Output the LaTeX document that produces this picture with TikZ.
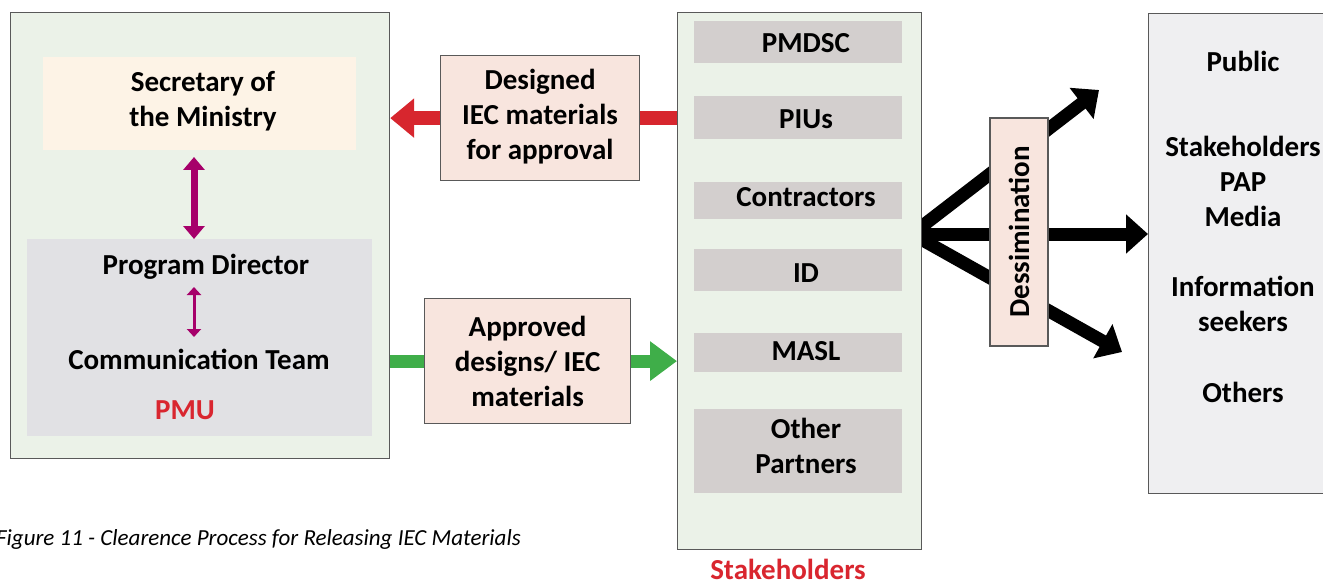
\documentclass[tikz,border=0pt]{standalone}
\usepackage{fontspec}
\setmainfont{Carlito}
\usetikzlibrary{arrows.meta,calc,backgrounds}
\definecolor{pmugreen}{HTML}{EBF2E8}
\definecolor{secfill}{HTML}{FDF3E6}
\definecolor{pmdgray}{HTML}{E1E1E4}
\definecolor{itemgray}{HTML}{D3CFCE}
\definecolor{pinkfill}{HTML}{F8E5DE}
\definecolor{rightfill}{HTML}{EFEFF1}
\definecolor{framecol}{HTML}{595959}
\definecolor{arrred}{HTML}{D7262E}
\definecolor{arrgreen}{HTML}{3FAE49}
\definecolor{arrpurple}{HTML}{A6006A}
\definecolor{pmured}{HTML}{D9262F}
\newcommand{\dgfont}{\fontsize{29}{35}\selectfont\bfseries}
\begin{document}
\begin{tikzpicture}[x=1pt,y=-1pt,
  framebox/.style={draw=framecol, line width=1.2pt, inner sep=0pt, anchor=north west},
  plainbox/.style={inner sep=0pt, anchor=north west},
  txt/.style={font=\dgfont, align=center, inner sep=0pt},
  redarrow/.style={draw=arrred, line width=14pt, -{Triangle[length=24pt,width=38pt]}},
  greenarrow/.style={draw=arrgreen, line width=13pt, -{Triangle[length=27pt,width=38pt]}},
  blackarrow/.style={draw=black, line width=13pt, -{Triangle[length=22pt,width=38pt]}},
  bigpurple/.style={draw=arrpurple, line width=7pt, {Triangle[length=13pt,width=21pt]}-{Triangle[length=13pt,width=21pt]}},
  smallpurple/.style={draw=arrpurple, line width=3pt, {Triangle[length=8pt,width=14pt]}-{Triangle[length=8pt,width=14pt]}}
]
\useasboundingbox (0,0) rectangle (1323,583);
\clip (0,0) rectangle (1323,583);

% PMU block
\node[framebox, fill=pmugreen, minimum width=379pt, minimum height=446pt] (pmu) at (10,12) {};
\node[plainbox, fill=secfill, minimum width=313pt, minimum height=93pt] (sec) at (43,57) {};
\node[txt] at (203,101) {Secretary of\\the Ministry};
\node[plainbox, fill=pmdgray, minimum width=345pt, minimum height=197pt] (pmd) at (27,239) {};
\node[txt] (pd) at (206,267) {Program Director};
\node[txt] (ct) at (199,359) {Communication Team};
\node[txt, text=pmured] (pmulab) at (185,410) {PMU};
\coordinate (pa1) at (194,157);
\coordinate (pa2) at (194,239);
\coordinate (pb1) at (194,287);
\coordinate (pb2) at (194,337);
\draw[bigpurple] (pa1) -- (pa2);
\draw[smallpurple] (pb1) -- (pb2);

% Middle boxes
\node[framebox, fill=pinkfill, minimum width=199pt, minimum height=125pt] (des) at (440,55) {};
\node[txt] at ([yshift=1pt]des.center) {Designed\\IEC materials\\for approval};
\node[framebox, fill=pinkfill, minimum width=206pt, minimum height=125pt] (app) at (424,298) {};
\node[txt] at (app.center) {Approved\\designs/ IEC\\materials};

% Stakeholders block
\node[framebox, fill=pmugreen, minimum width=244pt, minimum height=537pt] (stk) at (677,12) {};
\node[plainbox, fill=itemgray, minimum width=208pt, minimum height=42pt] (s1) at (694,21) {};
\node[plainbox, fill=itemgray, minimum width=208pt, minimum height=43pt] (s2) at (694,96) {};
\node[plainbox, fill=itemgray, minimum width=208pt, minimum height=37pt] (s3) at (694,182) {};
\node[plainbox, fill=itemgray, minimum width=208pt, minimum height=42pt] (s4) at (694,249) {};
\node[plainbox, fill=itemgray, minimum width=208pt, minimum height=39pt] (s5) at (694,333) {};
\node[plainbox, fill=itemgray, minimum width=208pt, minimum height=84pt] (s6) at (694,409) {};
\node[txt] at (806,43) {PMDSC};
\node[txt] at (806,119) {PIUs};
\node[txt] at (806,197) {Contractors};
\node[txt] at (806,273) {ID};
\node[txt] at (806,351) {MASL};
\node[txt] at (806,446) {Other\\Partners};
\node[txt, text=pmured] (stklab) at (788,569) {Stakeholders};

% Dissemination
\node[draw=framecol, line width=1.2pt, fill=pinkfill, rotate=90, minimum width=228pt, minimum height=58pt, inner sep=0pt, font=\dgfont] (dis) at (1019,232) {Dessimination};

% Right block
\node[framebox, fill=rightfill, minimum width=185pt, minimum height=480pt] (rb) at (1148,13) {};
\node[txt] at (1243,61) {Public};
\node[txt] at (1243,181) {Stakeholders\\PAP\\Media};
\node[txt] at (1243,304) {Information\\seekers};
\node[txt] at (1243,392) {Others};

% Caption
\node[inner sep=0pt, anchor=east, font=\fontsize{23}{27}\selectfont\itshape] (cap) at (521,539) {Figure 11 - Clearence Process for Releasing IEC Materials};

% Connectors (behind boxes)
\coordinate (fan) at (912,234);
\coordinate (up) at (1099,90);
\coordinate (down) at (1122,352);
\begin{scope}[on background layer]
\draw[redarrow] (des.center -| stk.west) -- (des.center -| pmu.east);
\draw[greenarrow] (app.center -| pmu.east) -- (app.center -| stk.west);
\draw[blackarrow] (fan) -- (fan -| rb.west);
\draw[blackarrow] (fan) -- (up);
\draw[blackarrow] (fan) -- (down);
\end{scope}
\end{tikzpicture}
\end{document}
